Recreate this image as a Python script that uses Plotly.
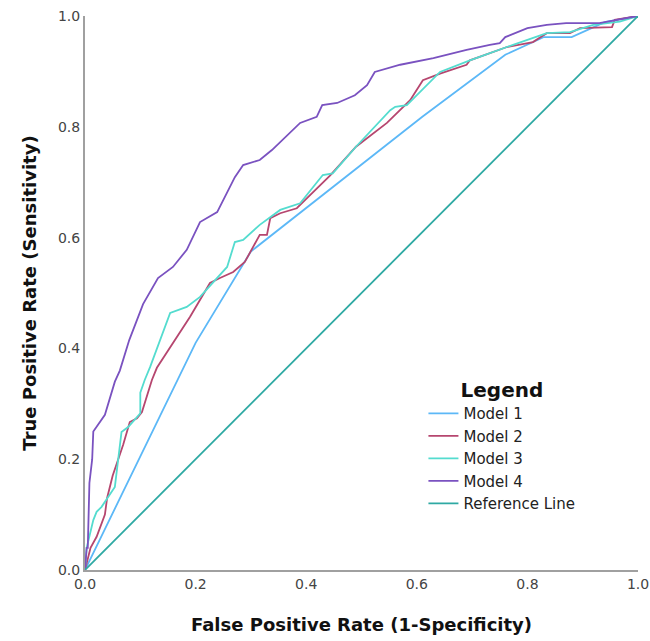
import plotly.graph_objects as go

m1_fpr = [0, 0.2, 0.3, 0.6, 0.61, 0.76, 0.83, 0.88, 0.94, 1.0]
m1_tpr = [0, 0.41, 0.575, 0.81, 0.818, 0.93, 0.962, 0.962, 0.989, 1.0]

m2_fpr = [0, 0.01, 0.021, 0.036, 0.04, 0.05, 0.069, 0.081, 0.094, 0.103, 0.121, 0.13, 0.19, 0.226, 0.244, 0.268,
          0.289, 0.316, 0.329, 0.335, 0.353, 0.383, 0.401, 0.443, 0.49, 0.546, 0.588, 0.611, 0.642, 0.69,
          0.696, 0.763, 0.81, 0.835, 0.877, 0.895, 0.953, 0.958, 1.0]
m2_tpr = [0, 0.04, 0.06, 0.10, 0.13, 0.17, 0.226, 0.267, 0.274, 0.285, 0.343, 0.365, 0.457, 0.518, 0.527, 0.538,
          0.556, 0.605, 0.605, 0.635, 0.644, 0.653, 0.671, 0.712, 0.764, 0.807, 0.848, 0.884, 0.896, 0.912,
          0.92, 0.944, 0.953, 0.969, 0.969, 0.978, 0.98, 0.993, 1.0]

m3_fpr = [0, 0.003, 0.015, 0.021, 0.03, 0.054, 0.066, 0.078, 0.094, 0.10, 0.10, 0.108, 0.118, 0.148, 0.154,
          0.184, 0.208, 0.257, 0.271, 0.286, 0.316, 0.353, 0.389, 0.43, 0.448, 0.49, 0.552, 0.561, 0.582,
          0.642, 0.696, 0.774, 0.835, 0.877, 0.919, 0.967, 1.0]
m3_tpr = [0, 0.04, 0.09, 0.105, 0.114, 0.15, 0.249, 0.258, 0.276, 0.283, 0.32, 0.343, 0.367, 0.446, 0.464,
          0.475, 0.493, 0.547, 0.592, 0.596, 0.623, 0.65, 0.662, 0.713, 0.716, 0.764, 0.83, 0.836, 0.839,
          0.899, 0.92, 0.948, 0.969, 0.971, 0.984, 0.99, 1.0]

m4_fpr = [0, 0.003, 0.005, 0.008, 0.013, 0.015, 0.036, 0.045, 0.054, 0.063, 0.08, 0.105, 0.132, 0.159,
          0.184, 0.208, 0.239, 0.271, 0.286, 0.316, 0.338, 0.389, 0.419, 0.429, 0.456, 0.488, 0.51, 0.524,
          0.57, 0.63, 0.69, 0.732, 0.75, 0.76, 0.80, 0.835, 0.87, 0.93, 1.0]
m4_tpr = [0, 0.04, 0.04, 0.157, 0.2, 0.25, 0.28, 0.31, 0.34, 0.36, 0.415, 0.48, 0.527, 0.547,
          0.578, 0.628, 0.646, 0.709, 0.731, 0.74, 0.758, 0.807, 0.818, 0.839, 0.843, 0.857, 0.875, 0.899,
          0.912, 0.924, 0.939, 0.948, 0.951, 0.962, 0.978, 0.984, 0.987, 0.987, 1.0]

ref_x = [0, 1]
ref_y = [0, 1]

names = ["Model 1", "Model 2", "Model 3", "Model 4", "Reference Line"]
colors = ["#5cb8f7", "#b6466f", "#54dccf", "#7a52c0", "#2ea9a3"]
tick_vals = [0, 0.2, 0.4, 0.6, 0.8, 1.0]
tick_text = ["0.0", "0.2", "0.4", "0.6", "0.8", "1.0"]

fig = go.Figure()
for xs, ys, nm, c in zip([m1_fpr, m2_fpr, m3_fpr, m4_fpr, ref_x], [m1_tpr, m2_tpr, m3_tpr, m4_tpr, ref_y], names, colors):
    fig.add_trace(go.Scatter(x=xs, y=ys, mode="lines", name=nm, line=dict(color=c, width=1.8)))

FONT = "DejaVu Sans"
fig.update_layout(
    width=650, height=641,
    margin=dict(l=85, r=12, t=16, b=71),
    plot_bgcolor="white", paper_bgcolor="white",
    font=dict(family=FONT, color="#222"),
    showlegend=True,
    legend=dict(
        x=0.612, y=0.359, xanchor="left", yanchor="top",
        title=dict(text="<b>Legend</b>", font=dict(size=20, color="#111", family=FONT), side="top center"),
        font=dict(size=15, color="#222", family=FONT),
        bgcolor="rgba(0,0,0,0)",
    ),
    xaxis=dict(
        range=[0, 1], tickvals=tick_vals, ticktext=tick_text, automargin=False,
        showgrid=False, zeroline=False, showline=True, linecolor="#a0a0a0", linewidth=2,
        ticks="", tickfont=dict(size=14, color="#444"),
        title=dict(text="<b>False Positive Rate (1-Specificity)</b>", font=dict(size=18, color="#111"), standoff=28),
    ),
    yaxis=dict(
        range=[0, 1], tickvals=tick_vals, ticktext=tick_text, automargin=False,
        showgrid=False, zeroline=False, showline=True, linecolor="#a0a0a0", linewidth=2,
        ticks="", tickfont=dict(size=14, color="#444"),
        title=dict(text="<b>True Positive Rate (Sensitivity)</b>", font=dict(size=18, color="#111"), standoff=17),
    ),
)
fig.write_html("out.html", config={"displayModeBar": False},
               post_script="document.body.style.margin='0';document.body.style.overflow='hidden';")
